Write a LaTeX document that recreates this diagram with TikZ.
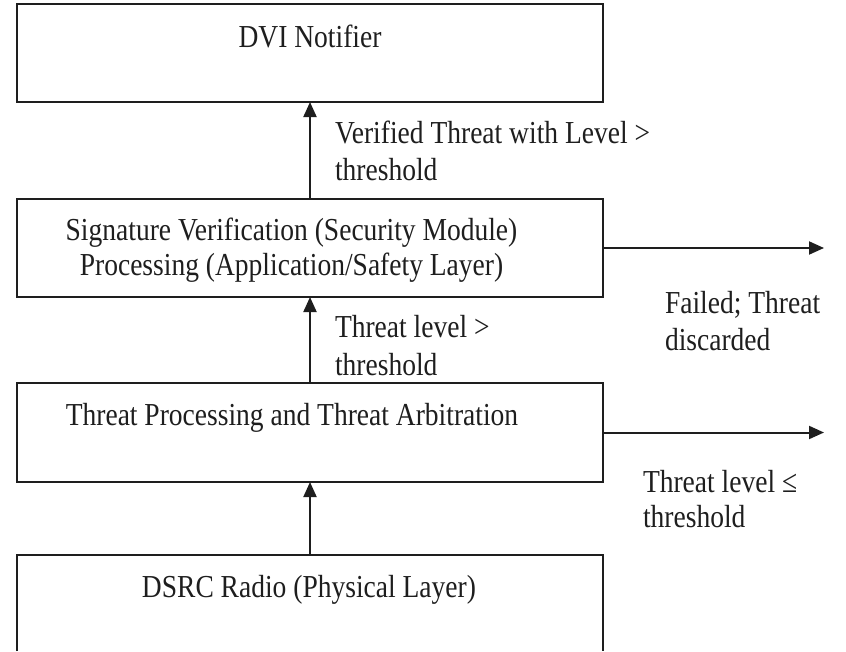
\documentclass[tikz,border=0pt]{standalone}
\usepackage{fontspec}
\setmainfont[FakeStretch=0.86]{Liberation Serif}
\usetikzlibrary{arrows.meta}
\definecolor{ink}{HTML}{1E1E1E}
\tikzset{
  blk/.style={draw=ink, line width=2pt, minimum width=586pt, inner sep=0pt, outer sep=0pt},
  txt/.style={inner sep=0pt, outer sep=0pt, text=ink, font=\fontsize{32}{37}\selectfont},
  arr/.style={draw=ink, line width=2pt, -{Triangle[length=15pt,width=13pt]}}
}
\begin{document}
\begin{tikzpicture}[x=1pt,y=-1pt]
\useasboundingbox (0,0) rectangle (846,651);
% boxes
\node[blk, minimum height=98pt] (dvi) at (310,53) {};
\node[blk, minimum height=98pt] (sig) at (310,248) {};
\node[blk, minimum height=99pt] (thr) at (310,432.5) {};
\node[inner sep=0pt, outer sep=0pt, minimum width=586pt, minimum height=96pt] (dsrc) at (310,603) {};
\draw[ink, line width=2pt] (dsrc.south west) -- (dsrc.north west) -- (dsrc.north east) -- (dsrc.south east);
% box texts
\node[txt, anchor=base] (tdvi) at (310,47) {DVI Notifier};
\node[txt, anchor=base] (tsig1) at (291.5,240) {Signature Verification (Security Module)};
\node[txt, anchor=base] (tsig2) at (291.5,275) {Processing (Application/Safety Layer)};
\node[txt, anchor=base] (tthr) at (292,425) {Threat Processing and Threat Arbitration};
\node[txt, anchor=base] (tdsrc) at (309,597) {DSRC Radio (Physical Layer)};
% connectors
\coordinate (fail) at (824,248);
\coordinate (drop) at (824,432.5);
\draw[arr] (sig.north) -- (dvi.south);
\draw[arr] (thr.north) -- (sig.south);
\draw[arr] (dsrc.north) -- (thr.south);
\draw[arr] (sig.east) -- (fail);
\draw[arr] (thr.east) -- (drop);
% labels
\node[txt, anchor=base west] (l1a) at (335,143) {Verified Threat with Level >};
\node[txt, anchor=base west] (l1b) at (335,180) {threshold};
\node[txt, anchor=base west] (l2a) at (335,337) {Threat level >};
\node[txt, anchor=base west] (l2b) at (335,375) {threshold};
\node[txt, anchor=base west] (l3a) at (665,313) {Failed; Threat};
\node[txt, anchor=base west] (l3b) at (665,350) {discarded};
\node[txt, anchor=base west] (l4a) at (643,492) {Threat level ≤};
\node[txt, anchor=base west] (l4b) at (643,527) {threshold};
\end{tikzpicture}
\end{document}
